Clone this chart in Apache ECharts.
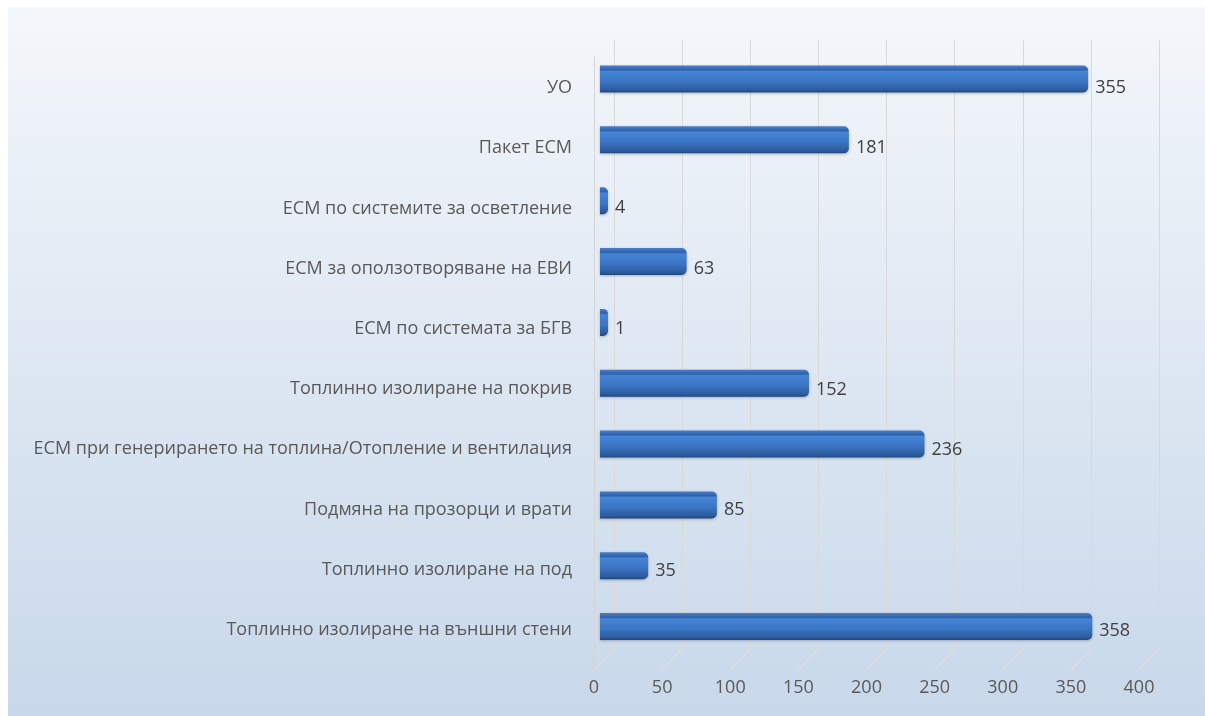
<!DOCTYPE html>
<html>
<head>
<meta charset="utf-8">
<script src="https://cdn.jsdelivr.net/npm/echarts@6/dist/echarts.min.js"></script>
<style>
html,body{margin:0;padding:0;background:#fff;}
#chart{width:1205px;height:716px;}
</style>
</head>
<body>
<div id="chart"></div>
<script>
// категории отгоре надолу
var categories = [
    "УО",
    "Пакет ЕСМ",
    "ЕСМ по системите за осветление",
    "ЕСМ за оползотворяване на ЕВИ",
    "ЕСМ по системата за БГВ",
    "Топлинно изолиране на покрив",
    "ЕСМ при генерирането на топлина/Отопление и вентилация",
    "Подмяна на прозорци и врати",
    "Топлинно изолиране на под",
    "Топлинно изолиране на външни стени"
];
var values = [355, 181, 4, 63, 1, 152, 236, 85, 35, 358];
var ticks = [0, 50, 100, 150, 200, 250, 300, 350, 400];

var font = "'Open Sans', 'Noto Sans', sans-serif";

function paint_bars(dom){
    let chart = echarts.init(dom, null, {renderer:'canvas'});

    // надписите вдясно от стълбовете леко слизат надолу (перспектива)
    let bar_data = values.map(function(v, i){
        return {value: v, label: {offset: [0, 8.5 - i * 0.45]}};
    });

    var option = {
        backgroundColor: '#fff',
        animation: false,
        graphic: [{
            type: 'rect',
            z: -10,
            silent: true,
            shape: {x: 8, y: 7, width: 1197, height: 709},
            style: {
                fill: new echarts.graphic.LinearGradient(0, 0, 0, 1, [
                    {offset: 0, color: '#f4f7fb'},
                    {offset: 1, color: '#c8d8ea'}
                ])
            }
        }],
        grid: [
            // предна равнина със стълбовете
            {left: 600, right: 55, top: 48.6, bottom: 59},
            // задна стена с линиите
            {left: 614, right: 46, top: 40, bottom: 67},
            // ос с надписите и пода
            {left: 594, right: 66, top: 57, bottom: 46},
            // надписи на категориите
            {left: 600, right: 55, top: 57.9, bottom: 55.9}
        ],
        xAxis: [
            {gridIndex: 0, type: 'value', min: 0, max: 400, show: false},
            {
                gridIndex: 1, type: 'value', min: 0, max: 400, interval: 50,
                axisLine: {show: false}, axisTick: {show: false}, axisLabel: {show: false},
                splitLine: {lineStyle: {color: '#d9d9d9', width: 1}}
            },
            {
                gridIndex: 2, type: 'value', min: 0, max: 400, interval: 50,
                axisLine: {show: false}, axisTick: {show: false}, splitLine: {show: false},
                axisLabel: {color: '#595959', fontSize: 18, fontFamily: font, margin: 9}
            },
            {gridIndex: 3, type: 'value', min: 0, max: 400, show: false}
        ],
        yAxis: [
            {gridIndex: 0, type: 'category', data: categories, inverse: true, show: false},
            {gridIndex: 1, type: 'value', show: false},
            {
                gridIndex: 2, type: 'value', min: 0, max: 1,
                axisLine: {show: true, lineStyle: {color: '#d4d4d4'}},
                axisTick: {show: false}, axisLabel: {show: false}, splitLine: {show: false}
            },
            {
                gridIndex: 3, type: 'category', data: categories, inverse: true,
                axisLine: {show: false}, axisTick: {show: false}, splitLine: {show: false},
                axisLabel: {color: '#595959', fontSize: 18, fontFamily: font, margin: 28}
            }
        ],
        series: [
            {
                // линиите на пода, от тиковете към задната стена
                type: 'custom',
                xAxisIndex: 2,
                yAxisIndex: 2,
                silent: true,
                z: 1,
                data: ticks.map(function(t){ return [t, 0]; }),
                renderItem: function(params, api){
                    let p = api.coord([api.value(0), api.value(1)]);
                    return {
                        type: 'line',
                        shape: {x1: p[0], y1: p[1], x2: p[0] + 20, y2: p[1] - 21},
                        style: {stroke: '#dedede', lineWidth: 1.2}
                    };
                }
            },
            {
                type: 'bar',
                xAxisIndex: 0,
                yAxisIndex: 0,
                data: bar_data,
                barWidth: 27,
                barMinHeight: 8,
                z: 5,
                itemStyle: {
                    borderRadius: [0, 5, 5, 0],
                    color: new echarts.graphic.LinearGradient(0, 0, 0, 1, [
                        {offset: 0, color: '#4a7fc8'},
                        {offset: 0.16, color: '#2f61a8'},
                        {offset: 0.22, color: '#4585d6'},
                        {offset: 0.6, color: '#3b74c2'},
                        {offset: 0.9, color: '#2d5b9e'},
                        {offset: 1, color: '#1f4883'}
                    ]),
                    shadowColor: 'rgba(0,0,0,0.25)',
                    shadowBlur: 3,
                    shadowOffsetY: 1
                },
                label: {
                    show: true,
                    position: 'right',
                    distance: 7,
                    color: '#404040',
                    fontSize: 18,
                    fontFamily: font
                }
            }
        ]
    };

    chart.setOption(option);
}

paint_bars(document.getElementById("chart"));
</script>
</body>
</html>
